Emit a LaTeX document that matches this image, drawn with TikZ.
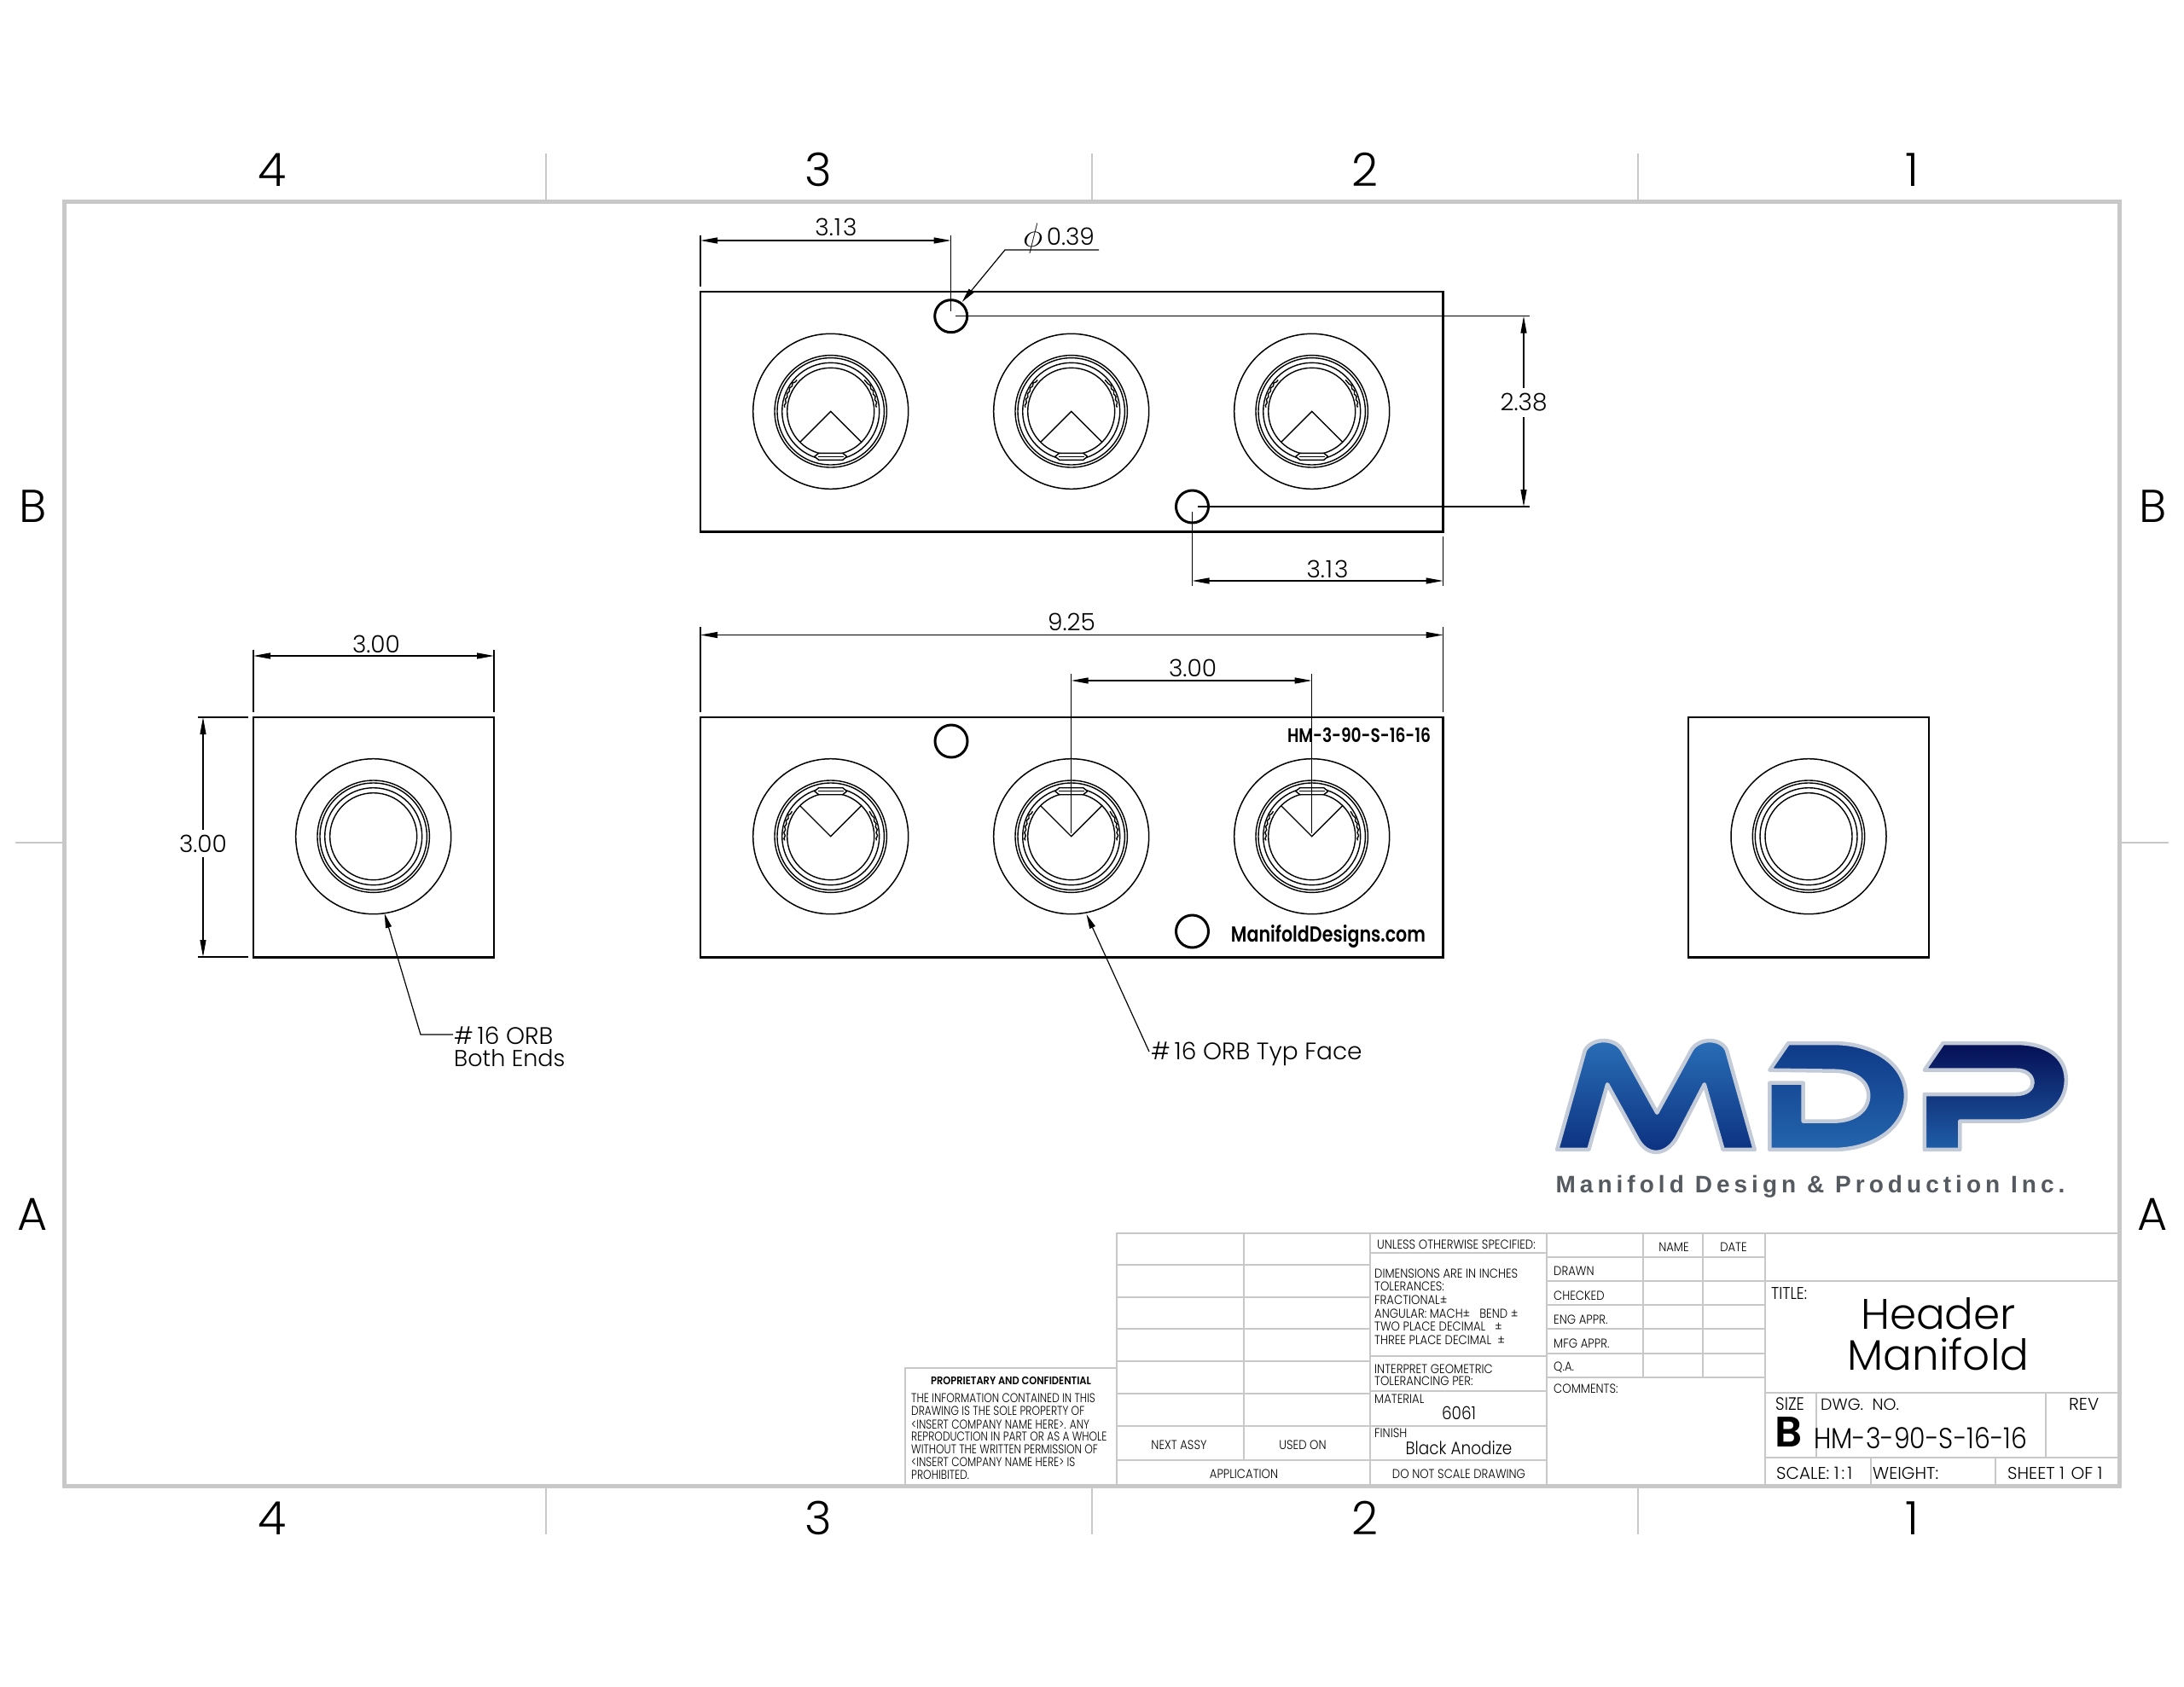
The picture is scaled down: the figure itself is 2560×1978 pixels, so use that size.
\documentclass[tikz,border=0pt]{standalone}
\usepackage{fontspec}
\usepackage{tikz}
\usetikzlibrary{arrows.meta, decorations.pathmorphing}
\setmainfont{Poppins Light}[BoldFont={Poppins SemiBold}]
\newfontfamily\tbfont[FakeStretch=0.88,BoldFont={Poppins SemiBold}]{Poppins Light}
\newfontfamily\propfont[FakeStretch=0.81,BoldFont={Poppins SemiBold}]{Poppins Light}
\newfontfamily\logofont[LetterSpace=18]{Liberation Sans}
\newcommand{\fs}[1]{\fontsize{#1}{#1}\selectfont}
\definecolor{framegray}{HTML}{C8C8C8}
\definecolor{logoedge}{HTML}{C4CBD8}
\definecolor{logotext}{HTML}{555A60}
\definecolor{logoM1}{HTML}{2A6FB8}
\definecolor{logoM2}{HTML}{1B559F}
\definecolor{logoM3}{HTML}{0B2F7E}
\definecolor{logoD1}{HTML}{0F3A88}
\definecolor{logoD2}{HTML}{1A4F9C}
\definecolor{logoD3}{HTML}{2465AE}
\definecolor{logoP1}{HTML}{050F55}
\definecolor{logoP2}{HTML}{0C2A78}
\definecolor{logoP3}{HTML}{1F5EA8}

\newcommand{\orbrings}[1]{
\node[portrim] (#1) at (#1c) {};
\draw[ringline] (#1c) circle (65.7pt) circle (62.7pt) circle (57pt) circle (51pt);
}
\newcommand{\orbflat}[3]{
\begin{scope}[shift={(#1c)},yscale=#2]
\draw[ringline] (-36,36) -- (0,0) -- (36,36);
\draw[ringline, fill=white] (-19,53) -- (-14,49) -- (14,49) -- (19,53) -- (14,57) -- (-14,57) -- cycle;
\draw[ringline] (-15,53) -- (15,53);
\end{scope}
\draw[ringline, decorate, decoration={snake, amplitude=0.8pt, segment length=7pt}] (#1c) ++(#3:54pt) arc (#3:#3+38:54pt);
\draw[ringline, decorate, decoration={snake, amplitude=0.8pt, segment length=7pt}] (#1c) ++(180-#3:54pt) arc (180-#3:142-#3:54pt);
}

\begin{document}
\begin{tikzpicture}[x=1pt, y=-1pt]
\tikzstyle{part}=[draw=black, line width=2.9pt]
\tikzstyle{portrim}=[circle, draw=black, line width=1.5pt, minimum size=182pt, inner sep=0pt]
\tikzstyle{ringline}=[draw=black, line width=1.4pt]
\tikzstyle{pin}=[circle, draw=black, line width=3pt, minimum size=38pt, inner sep=0pt]
\tikzstyle{dim}=[draw=black, line width=1.2pt, {Triangle[length=20pt, width=7pt]}-{Triangle[length=20pt, width=7pt]}]
\tikzstyle{ext}=[draw=black, line width=1.2pt]
\tikzstyle{leader}=[draw=black, line width=1.2pt, {Triangle[length=17pt, width=7pt]}-]
\tikzstyle{dimtext}=[font=\fs{28}, inner sep=1pt, yshift=-1pt]
\tikzstyle{dimgap}=[dimtext, fill=white, inner xsep=2pt, inner ysep=6pt]
\tikzstyle{zone}=[font=\fs{54}, inner sep=0pt, xshift=1.5pt]
\tikzstyle{grid}=[draw=framegray, line width=2.4pt]
\tikzstyle{tick}=[draw=framegray, line width=1.6pt]
\tikzstyle{tb}=[font=\tbfont\fs{15}, inner sep=0pt, yshift=-1.5pt]
\tikzstyle{tbl}=[tb, anchor=west]
\tikzstyle{tbp}=[tbl, font=\propfont\fs{15}]
\tikzstyle{tbm}=[font=\tbfont\fs{21}, inner sep=0pt, yshift=-1.5pt]
\tikzstyle{tbs}=[font=\fs{20}, inner sep=0pt, anchor=west, yshift=-1.5pt]

\useasboundingbox (0,0) rectangle (2560,1978);

% sheet frame and zones
\draw[draw=framegray, line width=5pt] (75,236) rectangle (2484,1742);
\foreach \tx in {640,1280,1920} {
  \draw[tick] (\tx,180) -- (\tx,236);
  \draw[tick] (\tx,1742) -- (\tx,1799);
}
\draw[tick] (18,988) -- (75,988);
\draw[tick] (2484,988) -- (2542,988);
\foreach \zx/\zt in {318/4,958/3,1598/2,2240/1} {
  \node[zone] (ZT\zt) at (\zx,199) {\zt};
  \node[zone] (ZB\zt) at (\zx,1780) {\zt};
}
\foreach \zx/\zn in {37/L,2522/R} {
  \node[zone] (ZB\zn) at (\zx,594) {B};
  \node[zone] (ZA\zn) at (\zx,1424) {A};
}

% views
\draw[part] (821,342) rectangle (1691.5,623.5);
\draw[part] (821,841) rectangle (1691.5,1122.5);
\draw[part] (297,841) rectangle (579,1122.5);
\draw[part] (1979,841) rectangle (2261,1122.5);

\coordinate (T1c) at (973.7,482.3);
\coordinate (T2c) at (1255.7,482.3);
\coordinate (T3c) at (1537.7,482.3);
\coordinate (F1c) at (973.7,980.7);
\coordinate (F2c) at (1255.7,980.7);
\coordinate (F3c) at (1537.7,980.7);
\coordinate (E1c) at (437.7,980.7);
\coordinate (E2c) at (2120,980.7);
\foreach \pname in {T1,T2,T3,F1,F2,F3,E1,E2} {\orbrings{\pname}}
\foreach \pname in {T1,T2,T3} {\orbflat{\pname}{1}{5}}
\foreach \pname in {F1,F2,F3} {\orbflat{\pname}{-1}{-5}}

\node[pin] (P1) at (1114.7,370.7) {};
\node[pin] (P2) at (1397.5,594) {};
\node[pin] (P3) at (1115,869) {};
\node[pin] (P4) at (1397.5,1092) {};

\node[font=\bfseries\propfont\fs{23}, inner sep=0pt] (partno) at (1593,862) {HM-3-90-S-16-16};
\node[font=\bfseries\propfont\fs{25.5}, inner sep=0pt] (site) at (1557,1098) {ManifoldDesigns.com};

% dimensions
\coordinate (a1) at (821,282);
\coordinate (a2) at (1114.7,282);
\draw[ext] (821,276) -- (821,336);
\draw[ext] (1114.7,276) -- (1114.7,365);
\draw[dim] (a1) -- (a2);
\node[dimtext] (d313a) at (980,265) {3.\kern1pt1\kern2pt3};

\coordinate (b1) at (1178,293);
\coordinate (b2) at (1288,293);
\coordinate (b0) at (1127.7,354);
\draw[leader] (b0) -- (b1) -- (b2);
\node[dimtext] (d039) at (1241,279) {\raisebox{-2pt}{\scalebox{1.6}{$\phi$}}\,0.39};

\coordinate (c1) at (1786,370.7);
\coordinate (c2) at (1786,594);
\draw[ext] (1120,370.7) -- (1793,370.7);
\draw[ext] (1404,594) -- (1793,594);
\draw[dim] (c1) -- (c2);
\node[dimgap] (d238) at (1786,471) {2.38};

\coordinate (e1) at (1397.5,681);
\coordinate (e2) at (1691.5,681);
\draw[ext] (1397.5,600) -- (1397.5,687);
\draw[ext] (1691.5,629) -- (1691.5,687);
\draw[dim] (e1) -- (e2);
\node[dimtext] (d313b) at (1556,666) {3.\kern1pt1\kern2pt3};

\coordinate (f1) at (821,744.5);
\coordinate (f2) at (1691.5,744.5);
\draw[ext] (821,735) -- (821,835);
\draw[ext] (1691.5,735) -- (1691.5,835);
\draw[dim] (f1) -- (f2);
\node[dimtext] (d925) at (1256,728) {9.25};

\coordinate (g1) at (1255.7,798);
\coordinate (g2) at (1537.7,798);
\draw[ext] (1255.7,790) -- (1255.7,977);
\draw[ext] (1537.7,790) -- (1537.7,977);
\draw[dim] (g1) -- (g2);
\node[dimtext] (d300a) at (1398,782) {3.00};

\coordinate (h1) at (297,769);
\coordinate (h2) at (579,769);
\draw[ext] (297,762) -- (297,835);
\draw[ext] (579,762) -- (579,835);
\draw[dim] (h1) -- (h2);
\node[dimtext] (d300b) at (441,754) {3.00};

\coordinate (i1) at (238,841);
\coordinate (i2) at (238,1122);
\draw[ext] (232,841) -- (291,841);
\draw[ext] (232,1122) -- (291,1122);
\draw[dim] (i1) -- (i2);
\node[dimgap] (d300c) at (238,988) {3.00};

\coordinate (j0) at (450.7,1071);
\coordinate (j1) at (493,1213);
\coordinate (j2) at (531,1213);
\draw[leader] (j0) -- (j1) -- (j2);
\node[dimtext, anchor=west, inner sep=0pt] (orb1) at (532,1213) {\#\,16 ORB};
\node[dimtext, anchor=west, inner sep=0pt, font=\fs{27}] (orb2) at (532,1240) {Both Ends};

\coordinate (k0) at (1273.5,1072);
\coordinate (k1) at (1347,1233);
\draw[leader] (k0) -- (k1);
\node[dimtext, anchor=west, inner sep=0pt] (orb3) at (1349,1235) {\#\,16 ORB Typ Face};

% logo
\begin{scope}[shift={(1777,1188)}, x=0.4372pt, y=-0.3333pt]
\tikzstyle{logoshape}=[draw=logoedge, line width=4.5pt, line join=round]
\path[logoshape, top color=logoM1, middle color=logoM2, bottom color=logoM3]
  (110,480) -- (195,480) -- (245,250) -- (325,440) .. controls (350,505) and (400,505) .. (430,440)
  -- (505,250) -- (555,480) -- (640,480) -- (565,130) .. controls (550,85) and (490,85) .. (470,130)
  -- (378,350) -- (285,130) .. controls (265,85) and (205,85) .. (185,130) -- cycle;
\path[logoshape, top color=logoD1, middle color=logoD2, bottom color=logoD3]
  (680,200) -- (730,105) -- (850,105) .. controls (960,105) and (1045,180) .. (1045,290)
  .. controls (1045,400) and (960,480) .. (850,480) -- (680,480) -- (680,245) -- (770,245) -- (770,380)
  -- (850,380) .. controls (910,380) and (945,340) .. (945,290) .. controls (945,240) and (910,203) .. (850,203) -- cycle;
\path[logoshape, top color=logoP1, middle color=logoP2, bottom color=logoP3]
  (1095,200) -- (1145,105) -- (1340,105) .. controls (1420,105) and (1475,150) .. (1475,235)
  .. controls (1475,320) and (1420,380) .. (1340,380) -- (1190,380) -- (1190,480) -- (1095,480)
  -- (1095,285) -- (1340,285) .. controls (1370,285) and (1385,265) .. (1385,245)
  .. controls (1385,220) and (1370,200) .. (1340,200) -- cycle;
\end{scope}
\node[font=\logofont\bfseries\fs{28}, text=logotext, inner sep=0pt] (maker) at (2122,1391) {Manifold Design \& Production Inc.};

% title block
\draw[grid] (1061,1742) -- (1061,1604) -- (1309,1604);
\draw[grid] (1309,1742) -- (1309,1446) -- (2484,1446);
\draw[grid] (1458,1446) -- (1458,1712);
\draw[grid] (1606,1446) -- (1606,1742);
\draw[grid] (1813,1446) -- (1813,1742);
\draw[grid] (1926,1446) -- (1926,1615);
\draw[grid] (1996,1446) -- (1996,1615);
\draw[grid] (2069,1446) -- (2069,1742);
\foreach \ry in {1483,1521,1558,1596,1634,1672,1712} {
  \draw[grid] (1309,\ry) -- (1606,\ry);
}
\foreach \ry in {1469,1590,1631,1672,1712} {
  \draw[grid] (1606,\ry) -- (1813,\ry);
}
\foreach \ry in {1474,1502,1530,1558,1587,1615} {
  \draw[grid] (1813,\ry) -- (2069,\ry);
}
\foreach \ry in {1502,1633,1709} {
  \draw[grid] (2069,\ry) -- (2484,\ry);
}
\draw[grid] (2129,1633) -- (2129,1709);
\draw[grid] (2398,1633) -- (2398,1709);
\draw[grid] (2193,1709) -- (2193,1742);
\draw[grid] (2339,1709) -- (2339,1742);

\node[tb, font=\bfseries\tbfont\fs{13}] (prop) at (1185,1617) {PROPRIETARY AND CONFIDENTIAL};
\foreach \ly/\lt in {1638/THE INFORMATION CONTAINED IN THIS,
  1653/DRAWING IS THE SOLE PROPERTY OF,
  1669/<INSERT COMPANY NAME HERE>.  ANY,
  1683/REPRODUCTION IN PART OR AS A WHOLE,
  1698/WITHOUT THE WRITTEN PERMISSION OF,
  1713/<INSERT COMPANY NAME HERE> IS,
  1728/PROHIBITED.} {
  \node[tbp] (prop\ly) at (1068,\ly) {\lt};
}
\node[tbl] (unless) at (1614,1458) {UNLESS OTHERWISE SPECIFIED:};
\foreach \ly/\lt in {1492/DIMENSIONS ARE IN INCHES,
  1507/TOLERANCES:,
  1523/FRACTIONAL±,
  1539/ANGULAR: MACH±\ \ \ BEND ±,
  1554/TWO PLACE DECIMAL\ \ \ ±,
  1570/THREE PLACE DECIMAL\ \ ±,
  1604/INTERPRET GEOMETRIC,
  1618/TOLERANCING PER:,
  1639/MATERIAL,
  1679/FINISH} {
  \node[tbl] (spec\ly) at (1611,\ly) {\lt};
}
\node[tbm] (mat) at (1710,1655) {6061};
\node[tbm] (finish) at (1710,1696) {Black Anodize};
\node[tb] (noscale) at (1710,1727) {DO NOT SCALE DRAWING};
\node[tb] (nextassy) at (1382,1693) {NEXT ASSY};
\node[tb] (usedon) at (1527,1693) {USED ON};
\node[tb] (appl) at (1458,1727) {APPLICATION};
\node[tb] (name) at (1962,1461) {NAME};
\node[tb] (date) at (2032,1461) {DATE};
\foreach \ly/\lt in {1489/DRAWN,1518/CHECKED,1546/ENG APPR.,1574/MFG APPR.,1602/Q.A.,1627/COMMENTS:} {
  \node[tbl] (sign\ly) at (1821,\ly) {\lt};
}
\node[tbm, font=\tbfont\fs{20}, anchor=west] (titlelbl) at (2076,1515) {TITLE:};
\node[inner sep=0pt, font=\fs{50}] (hdr) at (2272,1540) {Header};
\node[inner sep=0pt, font=\fs{50}] (mfd) at (2272,1588) {Manifold};
\node[tbm, font=\tbfont\fs{21}, anchor=west] (sizelbl) at (2081,1645) {SIZE};
\node[inner sep=0pt, font=\bfseries\fs{50}] (sizeb) at (2097,1679) {B};
\node[tbs, font=\fs{19}] (dwg) at (2134,1645) {DWG.\ \ NO.};
\node[tbs] (rev) at (2425,1645) {REV};
\node[inner sep=0pt, font=\tbfont\fs{34}, anchor=west] (dwgno) at (2126,1686) {HM-3-90-S-16-16};
\node[tbs] (scale) at (2082,1726) {SCALE:\ 1\kern3pt:\kern3pt1};
\node[tbs] (weight) at (2195,1726) {WEIGHT:};
\node[tbs] (sheet) at (2353,1726) {SHEET 1\kern2pt\ OF 1};
\end{tikzpicture}
\end{document}
